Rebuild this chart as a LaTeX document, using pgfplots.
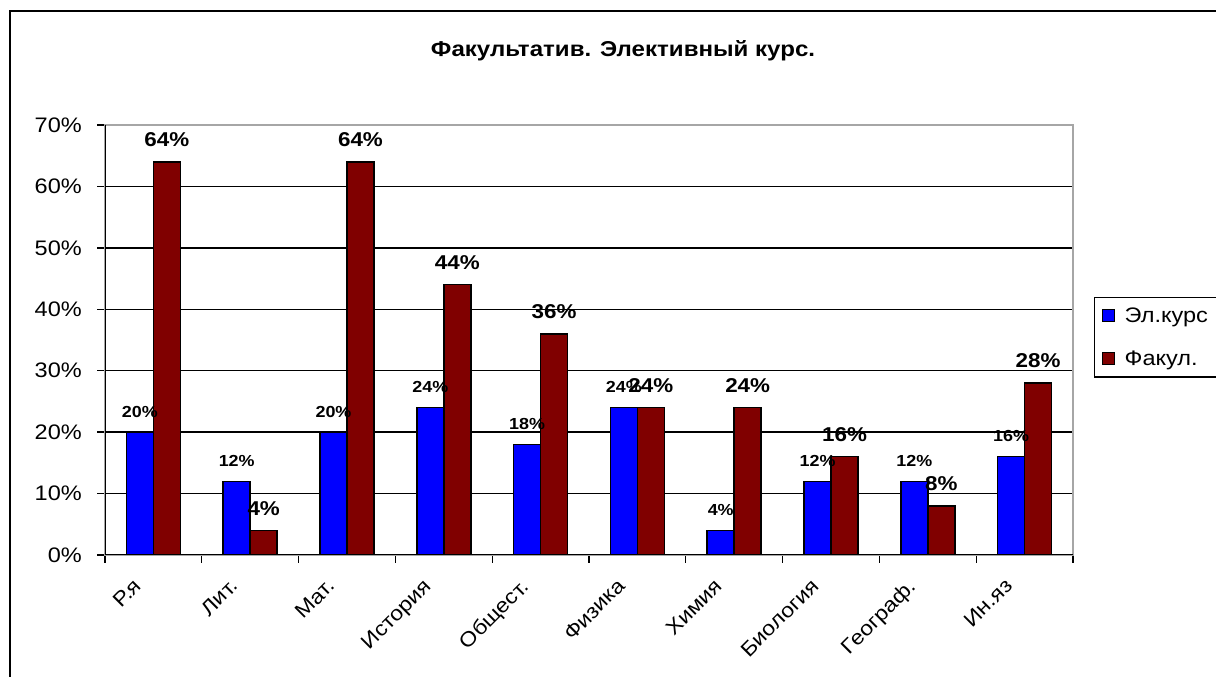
\documentclass[border=0pt]{standalone}
\usepackage{pgfplots}
\pgfplotsset{compat=1.18}
\usepackage{fontspec}
\setmainfont{Liberation Sans}[FakeStretch=1.12]
\definecolor{barblue}{RGB}{0,0,255}
\definecolor{barred}{RGB}{128,0,0}
\begin{document}
\begin{tikzpicture}
\useasboundingbox (0,0) rectangle (1216pt,677pt);
\clip (0,0) rectangle (1216pt,677pt);
\draw[line width=2pt] (10pt,-20pt) -- (10pt,666pt) -- (1240pt,666pt);
\node[font=\bfseries\fontsize{21.5}{24}\selectfont] at (623pt,626.5pt) {Факультатив. Элективный курс.};
\begin{axis}[
  at={(105pt,122pt)}, anchor=south west,
  scale only axis, width=968pt, height=430pt,
  ybar=0pt, bar width=27pt,
  xmin=-0.5, xmax=9.5, ymin=0, ymax=70,
  ytick={0,10,20,30,40,50,60,70},
  yticklabels={0\%,10\%,20\%,30\%,40\%,50\%,60\%,70\%},
  yticklabel style={font=\fontsize{21}{24}\selectfont, anchor=east, inner sep=0pt, xshift=-15pt},
  xtick={-0.5,0.5,...,9.5},
  xticklabels={},
  extra x ticks={0,1,2,3,4,5,6,7,8,9},
  extra x tick labels={Р.я,Лит.,Мат.,История,Общест.,Физика,Химия,Биология,Географ.,Ин.яз},
  extra x tick style={major tick length=0pt, xticklabel style={font=\fontsize{20.5}{23}\selectfont, xshift=-21pt, yshift=-22pt, rotate=45, anchor=north east, inner sep=0pt}},
  tick pos=left,
  tick align=outside, major tick length=8pt,
  tick style={black, line width=1.3pt},
  ymajorgrids, major grid style={black, line width=1.3pt},
  axis line style={draw=gray!70, line width=1.3pt},
  /pgf/number format/assume math mode=true,
  legend style={at={(1.0217,0.6)}, anchor=north west, draw=black, line width=1.3pt,
    font=\fontsize{21}{24}\selectfont, row sep=23pt, inner xsep=7pt, inner ysep=8pt,
    /tikz/every odd column/.append style={column sep=8pt}},
  legend image code/.code={\draw[#1, line width=1pt] (0pt,-6pt) rectangle (12pt,6pt);},
  legend cell align=left,
]
\addplot[fill=barblue, draw=black, line width=1.5pt,
  nodes near coords={\pgfmathprintnumber{\pgfplotspointmeta}\%},
  every node near coord/.append style={font=\bfseries\fontsize{16}{18}\selectfont, anchor=south, inner sep=0pt, yshift=14pt, text=black}]
  coordinates {(0,20) (1,12) (2,20) (3,24) (4,18) (5,24) (6,4) (7,12) (8,12) (9,16)};
\addplot[fill=barred, draw=black, line width=1.5pt,
  nodes near coords={\pgfmathprintnumber{\pgfplotspointmeta}\%},
  every node near coord/.append style={font=\bfseries\fontsize{20}{22}\selectfont, anchor=south, inner sep=0pt, yshift=14.5pt, text=black}]
  coordinates {(0,64) (1,4) (2,64) (3,44) (4,36) (5,24) (6,24) (7,16) (8,8) (9,28)};
\legend{Эл.курс, Факул.}
\draw[black, line width=1.5pt] (rel axis cs:0,1) -- (rel axis cs:0,0) -- (rel axis cs:1,0);
\end{axis}
\end{tikzpicture}
\end{document}
